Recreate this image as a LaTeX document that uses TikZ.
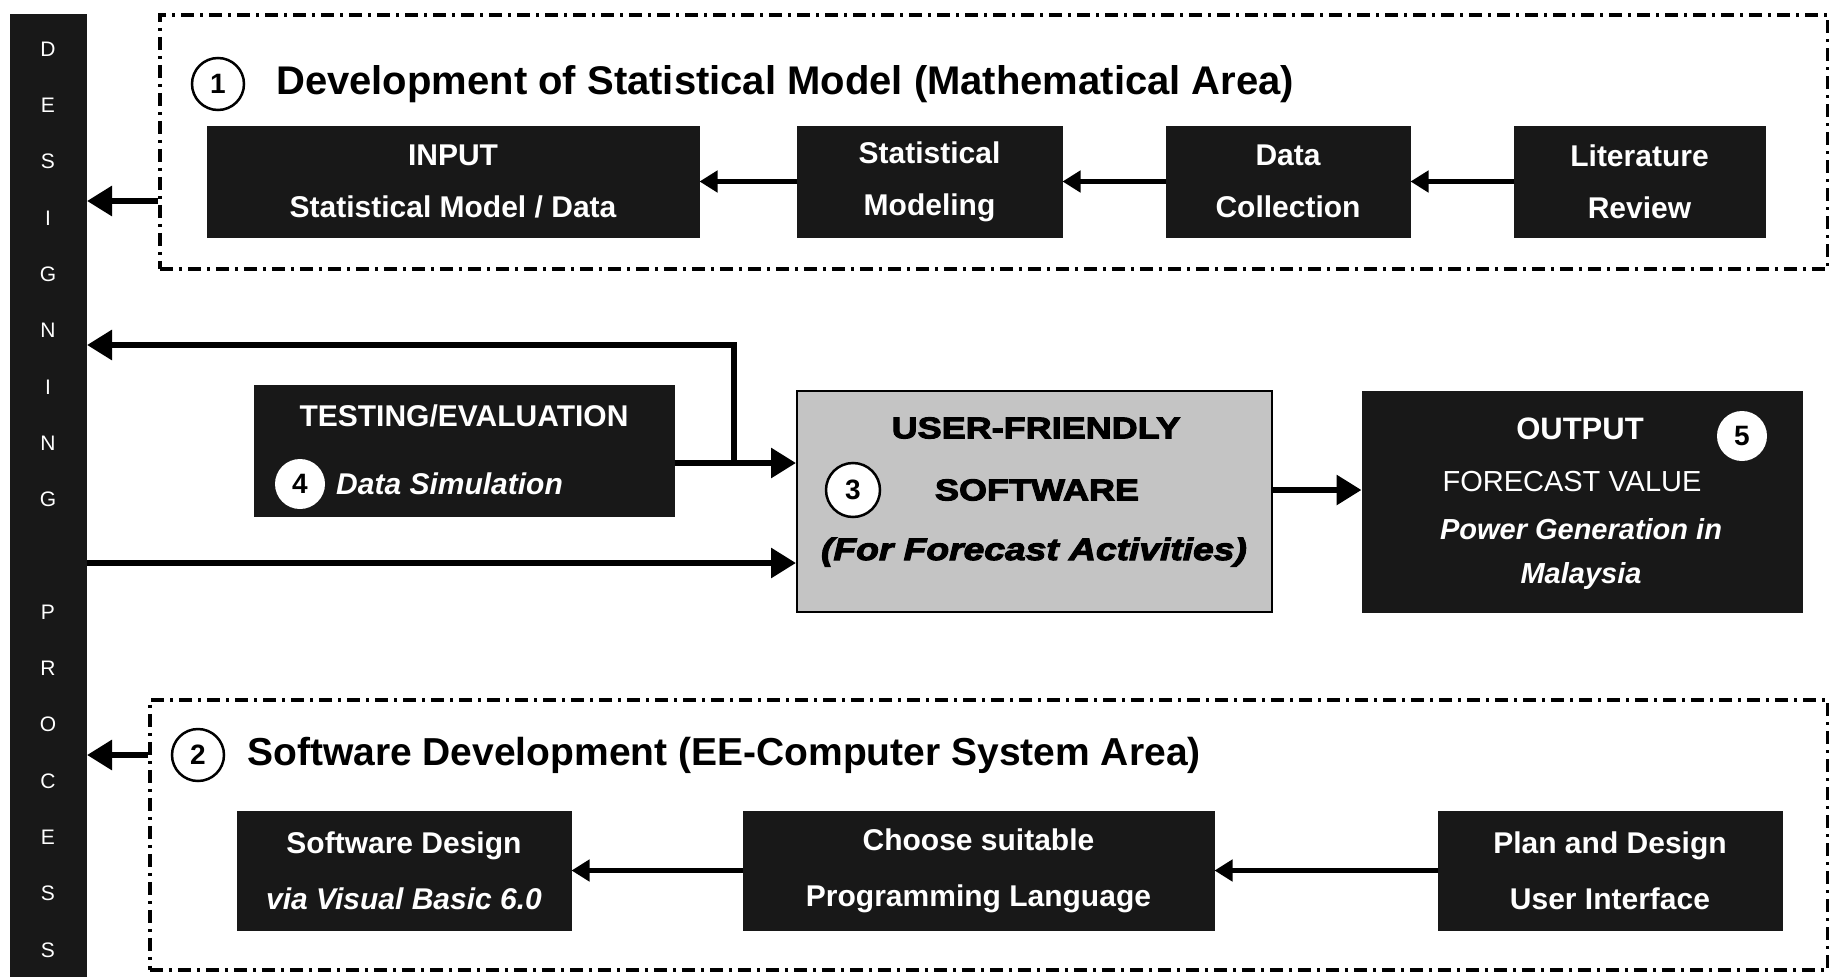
\documentclass[tikz,border=0pt]{standalone}
\usepackage{fontspec}
\setmainfont{Liberation Sans}
\newfontfamily\heavyfont{Liberation Sans}[FakeStretch=1.2,
  BoldFeatures={FakeBold=3.5}, BoldItalicFeatures={FakeBold=3.5}]
\usetikzlibrary{arrows.meta}
\definecolor{boxink}{RGB}{24,24,24}
\definecolor{softgray}{RGB}{196,196,196}
\newcommand{\fsz}[2]{\fontsize{#1}{#2}\selectfont}

\begin{document}
\begin{tikzpicture}[x=1pt,y=-1pt,
  darkbox/.style={fill=boxink, draw=boxink, line width=1pt, inner sep=0pt},
  boxtxt/.style={text=white, align=center, inner sep=0pt, font=\fsz{30}{52}\bfseries},
  lowtxt/.style={text=white, align=center, inner sep=0pt, font=\fsz{30}{56}\bfseries},
  heavy/.style={inner sep=0pt, font=\fsz{30}{30}\heavyfont\bfseries},
  frame/.style={draw=black, line width=3.5pt, dash pattern=on 13pt off 6pt on 3pt off 6pt},
  numcirc/.style={circle, draw=black, line width=2.5pt, fill=white, minimum size=52pt,
    inner sep=0pt, font=\fsz{28}{28}\bfseries},
  dotcirc/.style={circle, fill=white, minimum size=50pt, inner sep=0pt, font=\fsz{28}{28}\bfseries},
  rowarrow/.style={line width=4.5pt, -{Triangle[length=18pt,width=21pt]}},
  bigarrow/.style={line width=6pt, -{Triangle[length=25pt,width=29pt]}},
  title/.style={anchor=west, inner sep=0pt, font=\fsz{40}{40}\bfseries},
  barletter/.style={text=white, inner sep=0pt, font=\fsz{21}{21}},
]
\fill[white] (0,0) rectangle (1829,977);
\useasboundingbox (0,0) rectangle (1829,977);

% vertical banner on the left
\node[darkbox, anchor=north west, minimum width=76pt, minimum height=963pt] (bar) at (10,14) {};
\foreach \ch [count=\k from 0] in {D,E,S,I,G,N,I,N,G,{},P,R,O,C,E,S,S}
  \node[barletter] (L\k) at (48, 49+56.3*\k) {\ch};

% ---------- 1: statistical model ----------
\node[frame, anchor=north west, minimum width=1668pt, minimum height=254pt] (f1) at (158,13) {};
\node[numcirc] (c1) at (218,84) {1};
\node[title] (t1) at (276,84) {Development of Statistical Model (Mathematical Area)};

\node[darkbox, boxtxt, minimum width=492pt, minimum height=111pt] (input) at (453,181.5)
  {INPUT\\Statistical Model / Data};
\node[darkbox, boxtxt, minimum width=265pt, minimum height=111pt] (stat) at (929.5,181.5)
  {Statistical\\Modeling};
\node[darkbox, boxtxt, minimum width=244pt, minimum height=111pt] (datacol) at (1288,181.5)
  {Data\\Collection};
\node[darkbox, boxtxt, minimum width=251pt, minimum height=111pt] (lit) at (1639.5,181.5)
  {Literature\\Review};

\draw[rowarrow] (lit) -- (datacol);
\draw[rowarrow] (datacol) -- (stat);
\draw[rowarrow] (stat) -- (input);

\coordinate (f1out) at (158,201);
\draw[bigarrow] (f1out) -- (bar.east |- f1out);

% ---------- middle: testing, software, output ----------
\node[darkbox, minimum width=420pt, minimum height=131pt] (test) at (464,450.5) {};
\node[boxtxt] (testlbl) at (464,416) {TESTING/EVALUATION};
\node[dotcirc] (c4) at (300,484) {4};
\node[boxtxt, font=\fsz{30}{30}\bfseries\itshape, anchor=west] (sim) at (336,484) {Data Simulation};

\node[fill=softgray, draw=black, line width=2pt, minimum width=475pt, minimum height=221pt] (sw) at (1034.5,501.5) {};
\node[heavy] (sw1) at (1036,428) {USER-FRIENDLY};
\node[heavy] (sw2) at (1037,490) {SOFTWARE};
\node[heavy, font=\fsz{31}{31}\heavyfont\bfseries\itshape] (sw3) at (1034,552) {(For Forecast Activities)};
\node[numcirc, minimum size=54pt] (c3) at (853,490) {3};

\node[darkbox, minimum width=440pt, minimum height=221pt] (out) at (1582,501.5) {};
\node[boxtxt, font=\fsz{31}{31}\bfseries] (out1) at (1580,429) {OUTPUT};
\node[boxtxt, font=\fsz{29}{29}] (out2) at (1572,482) {FORECAST VALUE};
\node[boxtxt, font=\fsz{29}{44}\bfseries\itshape] (out3) at (1581,554) {Power Generation in\\Malaysia};
\node[dotcirc] (c5) at (1742,436) {5};

\coordinate (tj) at (734,463);
\draw[bigarrow] (test.east |- tj) -- (sw.west |- tj);
\draw[bigarrow] ([yshift=3pt]tj) |- (bar.east |- 0,345);
\coordinate (lowin) at (0,563);
\draw[bigarrow] (bar.east |- lowin) -- (sw.west |- lowin);
\coordinate (swout) at (0,490);
\draw[bigarrow] (sw.east |- swout) -- (out.west |- swout);

% ---------- 2: software development ----------
\node[frame, anchor=north west, minimum width=1678pt, minimum height=270pt] (f2) at (148,698) {};
\node[numcirc] (c2) at (198,755) {2};
\node[title, font=\fsz{39}{39}\bfseries] (t2) at (247,755) {Software Development (EE-Computer System Area)};

\node[darkbox, lowtxt, minimum width=334pt, minimum height=119pt] (swd) at (404,870.5)
  {Software Design\\\textit{via Visual Basic 6.0}};
\node[darkbox, lowtxt, minimum width=471pt, minimum height=119pt] (choose) at (978.5,870.5)
  {Choose suitable\\Programming Language};
\node[darkbox, lowtxt, minimum width=344pt, minimum height=119pt] (plan) at (1610,870.5)
  {Plan and Design\\User Interface};

\draw[rowarrow] (plan) -- (choose);
\draw[rowarrow] (choose) -- (swd);

\coordinate (f2out) at (148,755);
\draw[bigarrow] (f2out) -- (bar.east |- f2out);
\end{tikzpicture}
\end{document}
